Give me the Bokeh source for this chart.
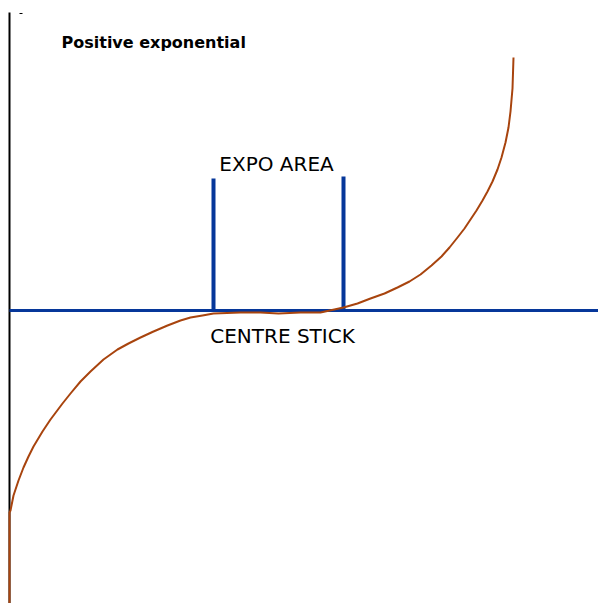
from bokeh.plotting import figure
from bokeh.models import Range1d
from bokeh.core.properties import value
from bokeh.embed import file_html
from bokeh.resources import INLINE

# Chart units: x runs left to right across the stick travel,
# y is measured from the centre stick (0) upward.
curve_left_x = [9, 9, 10, 13, 18, 23, 28, 33, 42, 50, 62, 70, 80, 90, 103,
                117, 128, 140, 153, 167, 180, 190, 202, 213]
curve_left_y = [-293, -202, -200, -185, -170, -157, -146, -136, -121, -109, -93, -83,
                -71, -61, -49, -39, -33, -27, -21, -15, -10, -7, -5, -3]

curve_mid_x = [213, 240, 260, 278, 300, 320, 343]
curve_mid_y = [-3, -2, -2, -3, -2, -2, 3]

curve_right_x = [343, 357, 370, 384, 397, 409, 420, 431, 441, 449, 457, 464, 470,
                 476, 482, 487, 492, 497, 501, 505, 508, 510, 512, 513]
curve_right_y = [3, 7, 12, 17, 23, 29, 36, 45, 54, 63, 73, 82, 91,
                 100, 110, 119, 129, 141, 153, 168, 183, 199, 222, 253]

axis_x = [9, 9]
axis_y = [-293, 298]

stick_x = [9, 598]
stick_y = [0, 0]

expo_left_x = 213
expo_right_x = 343
expo_left_top = 132
expo_right_top = 134

title_text = "Positive exponential"
expo_label = "EXPO AREA"
centre_label = "CENTRE STICK"

BLUE = "#06379a"
BROWN = "#a8440e"

p = figure(width=598, height=603, output_backend="svg", toolbar_location=None,
           x_range=Range1d(0, 598), y_range=Range1d(-293, 310),
           min_border=0, min_border_left=0, min_border_right=0,
           min_border_top=0, min_border_bottom=0)
p.axis.visible = False
p.grid.visible = False
p.outline_line_color = None
p.background_fill_color = "white"
p.border_fill_color = "white"

# vertical reference axis
p.line(axis_x, axis_y, line_color="black", line_width=2)
p.line([19, 22], [297, 297], line_color="black", line_width=1)

# centre stick line
p.line(stick_x, stick_y, line_color=BLUE, line_width=3)

# expo area markers
p.segment(x0=[expo_left_x, expo_right_x], y0=[0, 0],
          x1=[expo_left_x, expo_right_x], y1=[expo_left_top, expo_right_top],
          line_color=BLUE, line_width=4)

# response curve
cx = curve_left_x + curve_mid_x[1:] + curve_right_x[1:]
cy = curve_left_y + curve_mid_y[1:] + curve_right_y[1:]
p.line(cx, cy, line_color=BROWN, line_width=2, line_join="round")

p.text(x=[61], y=[268], text=[title_text], text_font=value("DejaVu Sans"),
       text_font_style="bold", text_font_size="16px", text_color="black",
       text_baseline="middle", text_align="left")
p.text(x=[276], y=[147], text=[expo_label], text_font=value("DejaVu Sans"),
       text_font_size="20px", text_color="black",
       text_baseline="middle", text_align="center")
p.text(x=[282], y=[-25], text=[centre_label], text_font=value("DejaVu Sans"),
       text_font_size="20px", text_color="black",
       text_baseline="middle", text_align="center")

open("out.html", "w").write(file_html(p, INLINE))
